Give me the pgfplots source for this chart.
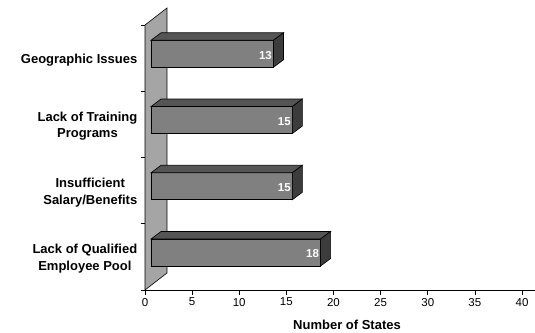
\documentclass[border=0pt]{standalone}
\usepackage{pgfplots}
\pgfplotsset{compat=1.18}
\usepackage{pgfplotstable}
\usepackage{fontspec}
\setmainfont{Liberation Sans}
\definecolor{frontgray}{RGB}{128,128,128}
\definecolor{topgray}{RGB}{85,85,85}
\definecolor{sidegray}{RGB}{60,60,60}
\definecolor{wallgray}{RGB}{165,165,165}
\pgfplotstableread{
idx val
0 18
1 15
2 15
3 13
}\bars
\begin{document}
\begin{tikzpicture}
\useasboundingbox (0,0) rectangle (535pt,332pt);
\begin{axis}[
  at={(145pt,42pt)}, anchor=south west,
  scale only axis, width=390pt, height=265pt,
  xmin=0, xmax=41.38, ymin=-0.5, ymax=3.5,
  clip=false,
  axis x line*=bottom, axis y line*=left,
  axis line style={-, line width=0.6pt},
  tick align=outside, major tick length=4.5pt,
  every tick/.style={black, line width=0.6pt},
  xtick={0,5,...,40},
  ytick={-0.5,0.5,1.5,2.5,3.5}, yticklabels={},
  extra y ticks={0,1,2,3},
  extra y tick labels={{Lack of Qualified\\Employee Pool},{Insufficient\\Salary/Benefits},{Lack of Training\\Programs},{Geographic Issues}},
  extra y tick style={major tick length=0pt},
  yticklabel style={align=center, font=\fontsize{13}{16.5}\selectfont\bfseries, xshift=-4.2pt, yshift=-2pt},
  xticklabel style={font=\fontsize{11.5}{13}\selectfont},
  /pgf/number format/assume math mode=true,
  xlabel={Number of States},
  xlabel style={at={(axis description cs:0.518,0)}, anchor=base, yshift=-39pt, font=\fontsize{13}{15}\selectfont\bfseries},
]
% back wall
\addplot[fill=wallgray, draw=black, line width=0.6pt] coordinates {(0,-0.5) (0,3.5) (2.334,3.757) (2.334,-0.243)} -- cycle;
% 3D bars
\pgfplotsinvokeforeach{0,1,2,3}{
  \pgfplotstablegetelem{#1}{val}\of\bars
  \pgfmathsetmacro\xa{0.637}
  \pgfmathsetmacro\xb{0.637+\pgfplotsretval}
  \pgfmathsetmacro\xc{\xb+1.061}
  \pgfmathsetmacro\xd{\xa+1.061}
  \pgfmathsetmacro\ya{#1+0.066-0.2038}
  \pgfmathsetmacro\yb{#1+0.066+0.2038}
  \pgfmathsetmacro\yc{\yb+0.1132}
  \pgfmathsetmacro\ye{\ya+0.1132}
  \addplot[fill=frontgray, draw=black, line width=0.6pt] coordinates {(\xa,\ya) (\xb,\ya) (\xb,\yb) (\xa,\yb)} -- cycle;
  \addplot[fill=topgray, draw=black, line width=0.6pt] coordinates {(\xa,\yb) (\xb,\yb) (\xc,\yc) (\xd,\yc)} -- cycle;
  \addplot[fill=sidegray, draw=black, line width=0.6pt] coordinates {(\xb,\ya) (\xc,\ye) (\xc,\yc) (\xb,\yb)} -- cycle;
}
% value labels
\addplot[draw=none, mark=none, nodes near coords, point meta=explicit,
  every node near coord/.style={anchor=east, inner sep=1.5pt, yshift=-1.5pt, text=white, font=\fontsize{11.5}{13}\selectfont\bfseries}]
  table[x expr=\thisrow{val}+0.637, y expr=\thisrow{idx}+0.066, meta=val] {\bars};
\end{axis}
\end{tikzpicture}
\end{document}
